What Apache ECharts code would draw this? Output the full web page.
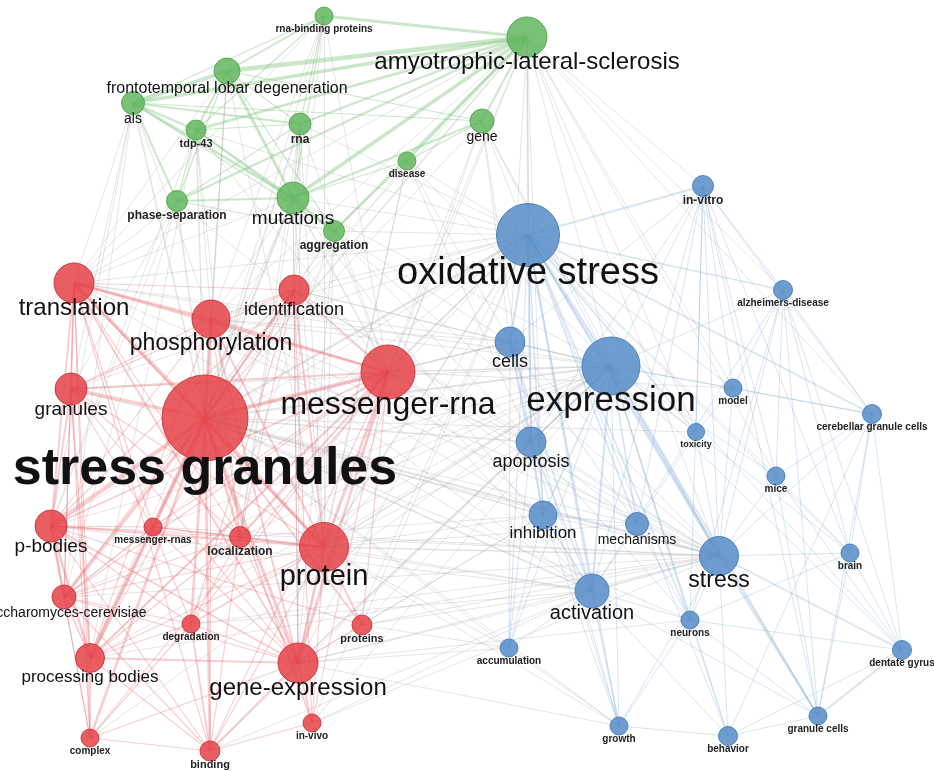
<!DOCTYPE html>
<html>
<head>
<meta charset="utf-8">
<script src="https://cdn.jsdelivr.net/npm/echarts@6/dist/echarts.min.js"></script>
<style>
  html, body { margin: 0; padding: 0; background: #fff; }
  #chart { width: 934px; height: 771px; }
</style>
</head>
<body>
<div id="chart"></div>
<script>
// keyword map: node keys, labels, map coordinates, circle radius, cluster
const nodeKeys = [
  "rbp", "amy", "ftld", "als", "tdp", "rna", "gene", "dis", "phase", "mut", "agg",
  "tr", "idf", "phos", "mrna", "gran", "sg", "pb", "mrnas", "loc", "prot", "sac", "deg", "prots", "procb", "gexp", "cplx", "bind", "vivo",
  "vitro", "ox", "alz", "cells", "expr", "model", "cgc", "tox", "apop", "mice", "inh", "mech", "str", "brain", "act", "neur", "accu", "dg", "gc", "grow", "beh"
]
const nodeLabels = [
  "rna-binding proteins", "amyotrophic-lateral-sclerosis", "frontotemporal lobar degeneration", "als", "tdp-43", "rna", "gene", "disease", "phase-separation", "mutations", "aggregation",
  "translation", "identification", "phosphorylation", "messenger-rna", "granules", "stress granules", "p-bodies", "messenger-rnas", "localization", "protein", "saccharomyces-cerevisiae", "degradation", "proteins", "processing bodies", "gene-expression", "complex", "binding", "in-vivo",
  "in-vitro", "oxidative stress", "alzheimers-disease", "cells", "expression", "model", "cerebellar granule cells", "toxicity", "apoptosis", "mice", "inhibition", "mechanisms", "stress", "brain", "activation", "neurons", "accumulation", "dentate gyrus", "granule cells", "growth", "behavior"
]
const nodeX = [
  324, 527, 227, 133, 196, 300, 482, 407, 177, 293, 334,
  74, 294, 211, 388, 71, 205, 51, 153, 240, 324, 64, 191, 362, 90, 298, 90, 210, 312,
  703, 528, 783, 510, 611, 733, 872, 696, 531, 776, 543, 637, 719, 850, 592, 690, 509, 902, 818, 619, 728
]
const nodeY = [
  16, 37, 71, 103, 130, 124, 121, 161, 201, 198, 231,
  283, 290, 319, 372, 389, 418, 526, 527, 537, 547, 597, 624, 625, 658, 663, 738, 751, 723,
  186, 235, 290, 342, 366, 388, 414, 432, 442, 476, 515, 524, 556, 553, 591, 620, 648, 650, 716, 726, 736
]
const nodeRadius = [
  9, 20, 13, 11.5, 10, 11, 12, 9, 10.5, 16, 10.5,
  20, 15, 19, 27, 16, 43, 16, 9, 10.5, 24.5, 12, 9, 10, 14.5, 20, 9, 10, 9,
  10.5, 31.5, 9.5, 15, 29, 9, 9.5, 8.5, 15, 9, 14, 11.5, 19.5, 9, 17, 9, 9, 9.5, 9, 9, 9.5
]
const nodeCluster = [
  2, 2, 2, 2, 2, 2, 2, 2, 2, 2, 2,
  0, 0, 0, 0, 0, 0, 0, 0, 0, 0, 0, 0, 0, 0, 0, 0, 0, 0,
  1, 1, 1, 1, 1, 1, 1, 1, 1, 1, 1, 1, 1, 1, 1, 1, 1, 1, 1, 1, 1
]

// co-occurrence links "source target strength"
const redLinks = [
  "sg tr 4", "sg idf 3", "sg phos 4", "sg mrna 5", "sg gran 4", "sg pb 5", "sg mrnas 3", "sg loc 3", "sg prot 4", "sg sac 4", "sg deg 3", "sg prots 2", "sg procb 5", "sg gexp 4", "sg cplx 3", "sg bind 3", "sg vivo 2",
  "tr phos 3", "tr mrna 3", "tr idf 1", "tr gran 2", "tr pb 2", "tr sac 1", "tr procb 1", "tr prot 2", "tr gexp 2", "tr loc 1", "tr bind 1", "tr cplx 1", "tr mrnas 1",
  "phos mrna 2", "phos prot 2", "phos idf 1", "phos gexp 2", "phos pb 1", "phos gran 1", "phos loc 1", "phos procb 1", "phos bind 1",
  "idf mrna 2", "idf prot 2", "idf gexp 1", "idf gran 1", "idf loc 1", "idf pb 1", "idf procb 1", "idf sac 1", "idf deg 1", "idf vivo 1",
  "mrna prot 3", "mrna gexp 3", "mrna gran 2", "mrna pb 2", "mrna loc 2", "mrna procb 2", "mrna sac 1", "mrna mrnas 1", "mrna deg 1", "mrna prots 1", "mrna bind 1", "mrna vivo 1", "mrna cplx 1",
  "gran pb 2", "gran sac 1", "gran procb 2", "gran prot 1", "gran gexp 1", "gran mrnas 1", "gran cplx 1", "gran loc 1",
  "pb sac 3", "pb procb 3", "pb mrnas 1", "pb loc 1", "pb prot 2", "pb gexp 2", "pb deg 1", "pb cplx 1", "pb bind 1", "pb prots 1",
  "prot gexp 3", "prot loc 2", "prot prots 2", "prot vivo 1", "prot deg 1", "prot bind 1", "prot procb 1", "prot sac 1", "prot mrnas 1",
  "gexp procb 2", "gexp vivo 2", "gexp sac 1", "gexp deg 1", "gexp bind 2", "gexp cplx 1", "gexp loc 1", "gexp prots 1", "gexp mrnas 1",
  "sac procb 2", "sac cplx 1", "sac mrnas 1", "sac deg 1", "sac bind 1", "sac loc 1",
  "procb cplx 2", "procb bind 1", "procb deg 1", "procb mrnas 1", "procb loc 1",
  "loc mrnas 1", "loc deg 1", "loc bind 1", "bind cplx 1", "bind vivo 1", "bind deg 2", "mrnas deg 1", "cplx deg 1"
]
const greenLinks = [
  "amy rbp 3", "amy ftld 5", "amy als 4", "amy tdp 3", "amy rna 2", "amy gene 2", "amy dis 2", "amy mut 4", "amy phase 2", "amy agg 2",
  "ftld rbp 2", "ftld als 4", "ftld tdp 2", "ftld mut 3", "ftld rna 1", "ftld phase 1", "ftld gene 1", "ftld agg 1",
  "als tdp 2", "als mut 3", "als phase 2", "als rna 2", "als rbp 1", "als gene 1", "als agg 1",
  "tdp mut 2", "tdp rna 1", "tdp phase 1", "tdp rbp 1", "tdp agg 1",
  "rna rbp 1", "rna mut 1", "rna phase 1", "mut agg 2", "mut phase 2", "mut gene 2", "mut dis 1",
  "gene dis 1", "rbp mut 1", "dis agg 1", "phase agg 1"
]
const blueLinks = [
  "ox vitro 3", "ox alz 2", "ox cgc 2", "ox cells 3", "ox expr 4", "ox apop 3", "ox inh 2", "ox act 3", "ox str 3", "ox mech 2", "ox tox 2", "ox model 1", "ox mice 1", "ox neur 2", "ox brain 1", "ox gc 1", "ox accu 1", "ox grow 1", "ox dg 1", "ox beh 1",
  "expr vitro 1", "expr alz 1", "expr cells 2", "expr apop 2", "expr inh 2", "expr act 3", "expr str 3", "expr mech 2", "expr tox 1", "expr model 1", "expr mice 1", "expr neur 2", "expr brain 1", "expr gc 2", "expr dg 1", "expr grow 1", "expr beh 1", "expr cgc 1", "expr accu 1",
  "vitro alz 1", "vitro cgc 1", "vitro model 1", "vitro mice 1", "vitro tox 1", "vitro str 1", "vitro act 1", "vitro mech 1", "vitro brain 1", "vitro neur 1", "vitro gc 1", "vitro cells 1", "vitro apop 1",
  "alz cgc 1", "alz model 1", "alz mice 1", "alz str 1", "alz dg 1", "alz brain 1", "alz neur 1", "alz gc 1", "alz act 1",
  "cells apop 2", "cells inh 1", "cells act 2", "cells str 1", "cells mech 1", "cells grow 1", "cells accu 1",
  "apop inh 2", "apop act 2", "apop str 1", "apop mech 1", "apop grow 1", "apop neur 1", "apop accu 1",
  "inh act 2", "inh str 1", "inh mech 1", "inh grow 1", "inh accu 1",
  "act str 2", "act mech 1", "act grow 2", "act accu 1", "act neur 1", "act beh 1", "act gc 1",
  "str brain 1", "str dg 2", "str gc 3", "str neur 1", "str beh 1", "str grow 1", "str mech 1", "str mice 1", "str tox 1", "str cgc 1", "str model 1",
  "cgc gc 1", "cgc dg 1", "cgc mice 1", "cgc brain 1", "cgc model 1", "cgc beh 1",
  "gc dg 3", "gc neur 1", "gc beh 1", "gc brain 1", "gc mice 1",
  "neur dg 1", "neur beh 1", "neur grow 1", "neur brain 1", "neur mech 1",
  "brain dg 1", "mice dg 1", "mice brain 1", "model tox 1", "tox mech 1", "beh dg 1", "grow beh 1", "accu grow 1"
]
const crossLinks = [
  "mut sg 3", "amy sg 2", "ftld sg 2", "als sg 2", "tdp sg 2", "phase sg 2", "agg sg 2", "rna sg 2", "rbp sg 1", "gene sg 1", "dis sg 1",
  "mut mrna 2", "amy mrna 1", "rbp mrna 1", "rna mrna 1", "tdp mrna 1", "phase mrna 1", "agg mrna 1", "gene mrna 1",
  "mut tr 1", "ftld tr 1", "als tr 1", "rbp tr 1", "phase tr 1", "tdp phos 1", "mut phos 1", "rbp phos 1", "als phos 1", "mut idf 1", "ftld phos 1",
  "phase gran 1", "als gran 1", "tdp pb 1", "phase pb 1", "mut prot 1", "rbp prot 1", "ftld prot 1", "agg prot 1", "rna prot 1", "mut gexp 1",
  "dis prot 1", "amy prot 1", "agg gexp 1", "gene gexp 1", "dis gexp 1", "rna loc 1", "tdp loc 1", "als pb 1", "phase sac 1", "als sac 1",
  "mut procb 1", "tdp procb 1", "rna gexp 1", "mut loc 1", "rna idf 1", "rbp idf 1", "amy idf 1", "amy phos 1", "amy tr 1", "agg deg 1",
  "amy ox 2", "amy expr 1", "amy vitro 1", "amy alz 1", "amy cells 1", "amy str 1", "amy apop 1", "amy cgc 1", "gene ox 1", "gene cells 1",
  "gene expr 1", "dis ox 1", "dis expr 1", "dis cells 1", "mut ox 1", "mut expr 1", "agg ox 1", "agg cells 1", "agg apop 1", "rna ox 1",
  "mut str 1", "mut act 1", "tdp ox 1", "amy inh 1", "gene apop 1", "gene str 1", "dis apop 1", "amy tox 1", "amy model 1", "amy mice 1",
  "sg ox 3", "sg expr 3", "sg cells 2", "sg apop 2", "sg inh 2", "sg act 2", "sg str 3", "sg mech 1", "sg neur 1", "sg accu 1", "sg grow 1", "sg tox 1",
  "mrna ox 2", "mrna expr 2", "mrna cells 1", "mrna apop 1", "mrna inh 1", "mrna act 1", "mrna str 1", "mrna mech 1", "mrna model 1",
  "prot ox 2", "prot expr 2", "prot str 2", "prot act 1", "prot inh 1", "prot apop 1", "prot cells 1", "prot mech 1", "prot accu 1", "prot grow 1",
  "gexp ox 1", "gexp expr 2", "gexp str 1", "gexp act 1", "gexp inh 1", "gexp apop 1", "gexp accu 1", "gexp grow 1", "gexp neur 1",
  "phos ox 1", "phos expr 1", "phos cells 1", "phos act 1", "phos inh 1", "phos apop 1", "phos str 1",
  "tr ox 1", "tr expr 1", "tr str 1", "tr cells 1", "tr act 1", "idf ox 1", "idf expr 1", "idf cells 1", "idf apop 1", "idf str 1",
  "gran expr 1", "gran ox 1", "gran str 1", "pb expr 1", "pb ox 1", "pb str 1", "pb act 1", "sac ox 1", "sac expr 1", "sac str 1",
  "procb expr 1", "procb ox 1", "procb str 1", "loc expr 1", "loc act 1", "loc ox 1", "deg expr 1", "deg str 1", "prots expr 1", "prots ox 1",
  "prots act 1", "prots str 1", "vivo expr 1", "vivo act 1", "vivo str 1", "bind expr 1", "bind act 1", "cplx expr 1", "mrnas expr 1", "mrnas str 1",
  "vivo ox 1", "prots accu 1", "prots inh 1", "loc inh 1", "deg act 1"
]

// fills carry their own alpha so labels stay solid black
const clusterColors = ["rgba(229,66,72,0.85)", "rgba(86,140,200,0.85)", "rgba(98,182,95,0.85)"]
const clusterBorders = ["rgba(205,50,56,0.9)", "rgba(70,124,184,0.9)", "rgba(80,164,78,0.9)"]
const clusterLinkColors = ["#e8646a", "#7aa6d6", "#7cc479"]

const chartDom = document.getElementById("chart")
const myChart = echarts.init(chartDom)

const biggest = nodeRadius.indexOf(Math.max(...nodeRadius))
const nodes = nodeKeys.map((k, i) => {
  const r = nodeRadius[i]
  const c = nodeCluster[i]
  const small = r <= 11
  return {
    name: k,
    value: [nodeX[i], nodeY[i]],
    symbolSize: r * 2,
    itemStyle: {
      color: clusterColors[c],
      borderColor: clusterBorders[c],
      borderWidth: 1,
    },
    label: {
      show: true,
      formatter: nodeLabels[i],
      position: "inside",
      offset: [0, r * 1.12 + 3],
      fontSize: small ? Math.round(r * 1.1) : Math.round(r * 1.2),
      fontWeight: i === biggest || small ? "bold" : "normal",
      fontFamily: "Liberation Sans, Arial, sans-serif",
      color: small ? "#222222" : "#111111",
    },
  }
})

function toLink(s, color, opacity, scale) {
  const p = s.split(" ")
  const w = Number(p[2])
  return {
    source: p[0],
    target: p[1],
    lineStyle: { color: color, width: 0.4 + w * scale, opacity: opacity },
  }
}
const links = [
  ...crossLinks.map((s) => toLink(s, "#b0b0b0", 0.35, 0.55)),
  ...redLinks.map((s) => toLink(s, clusterLinkColors[0], 0.32, 0.75)),
  ...blueLinks.map((s) => toLink(s, clusterLinkColors[1], 0.3, 0.6)),
  ...greenLinks.map((s) => toLink(s, clusterLinkColors[2], 0.4, 0.8)),
]

let option = {
  backgroundColor: "#ffffff",
  animation: false,
  grid: { left: 0, right: 0, top: 0, bottom: 0 },
  xAxis: { type: "value", min: 0, max: 934, show: false },
  yAxis: { type: "value", min: 0, max: 771, inverse: true, show: false },
  series: [
    {
      type: "graph",
      coordinateSystem: "cartesian2d",
      layout: "none",
      silent: true,
      symbol: "circle",
      data: nodes,
      links: links,
      lineStyle: { curveness: 0 },
      emphasis: { disabled: true },
    },
  ],
}
myChart.setOption(option)
</script>
</body>
</html>
